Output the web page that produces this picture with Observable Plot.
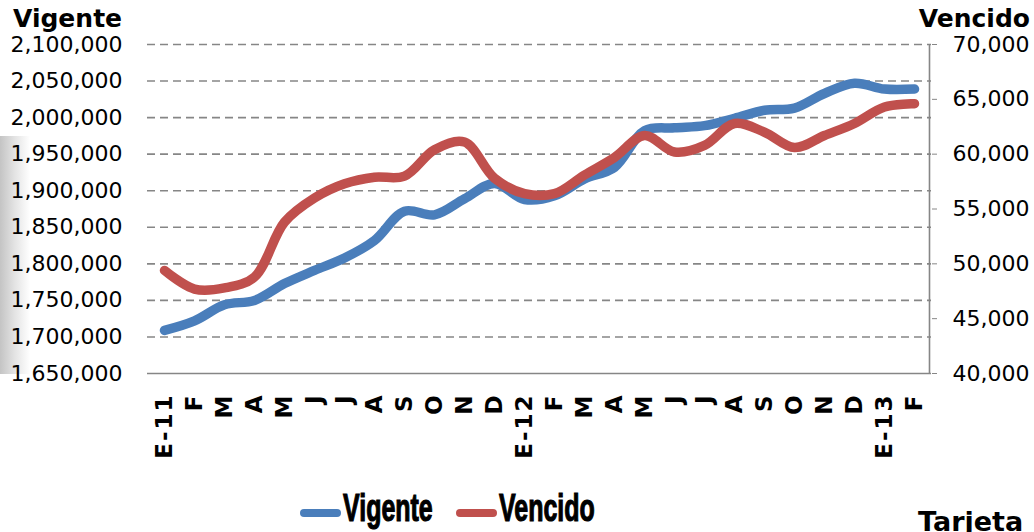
<!DOCTYPE html>
<html>
<head>
<meta charset="utf-8">
<script src="https://cdn.jsdelivr.net/npm/d3@7"></script>
<script src="https://cdn.jsdelivr.net/npm/@observablehq/plot@0.6"></script>
<style>
  body { margin: 0; background: #fff; }
  #wrap { position: relative; width: 1034px; height: 532px; overflow: hidden; background: #fff; font-family: "DejaVu Sans", sans-serif; }
  #shade { position: absolute; left: 0; top: 136px; width: 30px; height: 238px; background: linear-gradient(to right, #c4c4c4, #e4e4e4 50%, #ffffff); }
  #chart { position: absolute; left: 0; top: 0; }
  .title { position: absolute; font-weight: bold; font-size: 25px; line-height: 25px; color: #000; }
  .leg { position: absolute; top: 488px; height: 40px; }
  .legline { position: absolute; height: 8px; border-radius: 4px; top: 21px; }
  .legtext { position: absolute; top: 0; font-family: "Liberation Sans", sans-serif; font-weight: bold; font-size: 39px; line-height: 40px; transform: scaleX(0.64); transform-origin: left top; white-space: nowrap; -webkit-text-stroke: 1.2px #000; }
  g[aria-label="x-axis tick label"] { font-size: 23px; font-weight: bold; letter-spacing: 2px; }
</style>
</head>
<body>
<div id="wrap">
  <div id="shade"></div>
  <div id="chart"></div>
  <div class="title" style="left:13px; top:6px;">Vigente</div>
  <div class="title" style="right:4px; top:6px;">Vencido</div>
  <div class="leg" style="left:300px;">
    <div class="legline" style="left:0; width:41px; background:#4A7EBB;"></div>
    <div class="legtext" style="left:43px;">Vigente</div>
  </div>
  <div class="leg" style="left:456px;">
    <div class="legline" style="left:0; width:41px; background:#C0504D;"></div>
    <div class="legtext" style="left:43px;">Vencido</div>
  </div>
  <div class="title" style="left:918px; top:508px; font-size:27px; line-height:27px;">Tarjeta</div>
</div>
<script>
const months = ["E-11","F","M","A","M","J","J","A","S","O","N","D","E-12","F","M","A","M","J","J","A","S","O","N","D","E-13","F"];
const vigente = [1709000, 1722000, 1744000, 1750000, 1773000, 1791000, 1808000, 1832000, 1872000, 1867000, 1889000, 1910000, 1888000, 1893000, 1916000, 1932000, 1982000, 1986000, 1989000, 1999000, 2010000, 2013000, 2033000, 2047000, 2039000, 2039000];
const vencido = [49400, 47700, 47800, 48800, 53800, 56000, 57300, 57900, 58000, 60400, 61100, 57800, 56400, 56400, 58100, 59700, 61700, 60200, 60800, 62800, 62000, 60600, 61700, 62800, 64300, 64600];
const leftTicks = d3.range(1650000, 2100001, 50000);
const rightTicks = d3.range(40000, 70001, 5000);

// map Vencido (right axis, 40,000–70,000) onto the left scale (1,650,000–2,100,000)
const toLeft = v => 1650000 + (v - 40000) * 15;
const fromLeft = d => (d - 1650000) / 15 + 40000;

const rows = months.map((m, i) => ({i, vigente: vigente[i], vencido: toLeft(vencido[i])}));
const fmt = d3.format(",");

const chart = Plot.plot({
  width: 1034,
  height: 480,
  marginLeft: 147,
  marginRight: 103,
  marginTop: 44,
  marginBottom: 107,
  style: {fontFamily: "DejaVu Sans", fontSize: "22px", color: "#000", background: "transparent"},
  x: {type: "point", domain: d3.range(months.length)},
  y: {domain: [1650000, 2100000]},
  marks: [
    Plot.gridY(leftTicks.slice(1), {stroke: "#868686", strokeOpacity: 1, strokeWidth: 1.6, strokeDasharray: "8,5"}),
    Plot.ruleY([1650000], {stroke: "#868686", strokeWidth: 1.6}),
    Plot.ruleX([months.length - 1], {dx: 15, stroke: "#868686", strokeWidth: 1.6}),
    Plot.axisY({anchor: "left", ticks: leftTicks, tickSize: 0, tickPadding: 25, tickFormat: fmt, label: null, fontSize: 22}),
    Plot.axisY({anchor: "right", ticks: rightTicks.map(toLeft), tickSize: 5, tickPadding: 16, tickFormat: d => fmt(Math.round(fromLeft(d))), label: null, stroke: "#868686", fill: "#000", fontSize: 22}),
    Plot.axisX({tickSize: 0, tickRotate: -90, tickPadding: 20, tickFormat: i => months[i], label: null, fontWeight: "bold", fontSize: 23}),
    Plot.line(rows, {x: "i", y: "vigente", stroke: "#4A7EBB", strokeWidth: 9.5, curve: "catmull-rom"}),
    Plot.line(rows, {x: "i", y: "vencido", stroke: "#C0504D", strokeWidth: 9.5, curve: "catmull-rom"})
  ]
});
document.getElementById("chart").appendChild(chart);
</script>
</body>
</html>
